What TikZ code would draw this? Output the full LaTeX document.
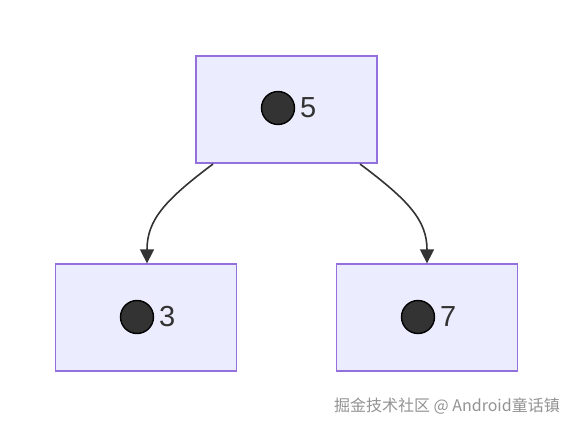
\documentclass[tikz,border=0pt]{standalone}
\usepackage{fontspec}
\setmainfont{Liberation Sans}
\newfontfamily\cjk{Noto Sans CJK SC}
\usetikzlibrary{arrows.meta}
\definecolor{boxfill}{HTML}{ECECFF}
\definecolor{boxline}{HTML}{9370DB}
\definecolor{ink}{HTML}{333333}
\begin{document}
\begin{tikzpicture}[x=1pt,y=-1pt,
  treebox/.style={draw=boxline, fill=boxfill, line width=1.3pt, minimum width=181pt, minimum height=107pt, inner sep=0pt},
  dot/.style={circle, fill=ink, draw=black, line width=1.4pt, minimum size=33pt, inner sep=0pt},
  num/.style={text=ink, font=\fontsize{29}{29}\selectfont, inner sep=0pt, anchor=west},
  link/.style={draw=ink, line width=1.6pt, -{Triangle[length=14pt,width=14pt]}}]
\useasboundingbox (0,0) rectangle (573,428);
\fill[white] (0,0) rectangle (573,428);
\node[treebox] (top) at (286.5,109.5) {};
\node[treebox] (left) at (146,317.5) {};
\node[treebox] (right) at (427,317.5) {};
\node[dot] (tc) at (278,108) {};
\node[num] (tn) at (300,108) {5};
\node[dot] (lc) at (137,317) {};
\node[num] (ln) at (159,317) {3};
\node[dot] (rc) at (418,317) {};
\node[num] (rn) at (440,317) {7};
\coordinate (ls) at (213,164);
\coordinate (rs) at (360,164);
\draw[link] (ls) .. controls (165,200) and (147,220) .. (left.north -| 147,0);
\draw[link] (rs) .. controls (408,200) and (427,220) .. (right.north -| 427,0);
\node[text=gray!85, font=\cjk\fontsize{16}{16}\selectfont, anchor=east, inner sep=0pt] (wm) at (560,406) {掘金技术社区 @ Android童话镇};
\end{tikzpicture}
\end{document}
